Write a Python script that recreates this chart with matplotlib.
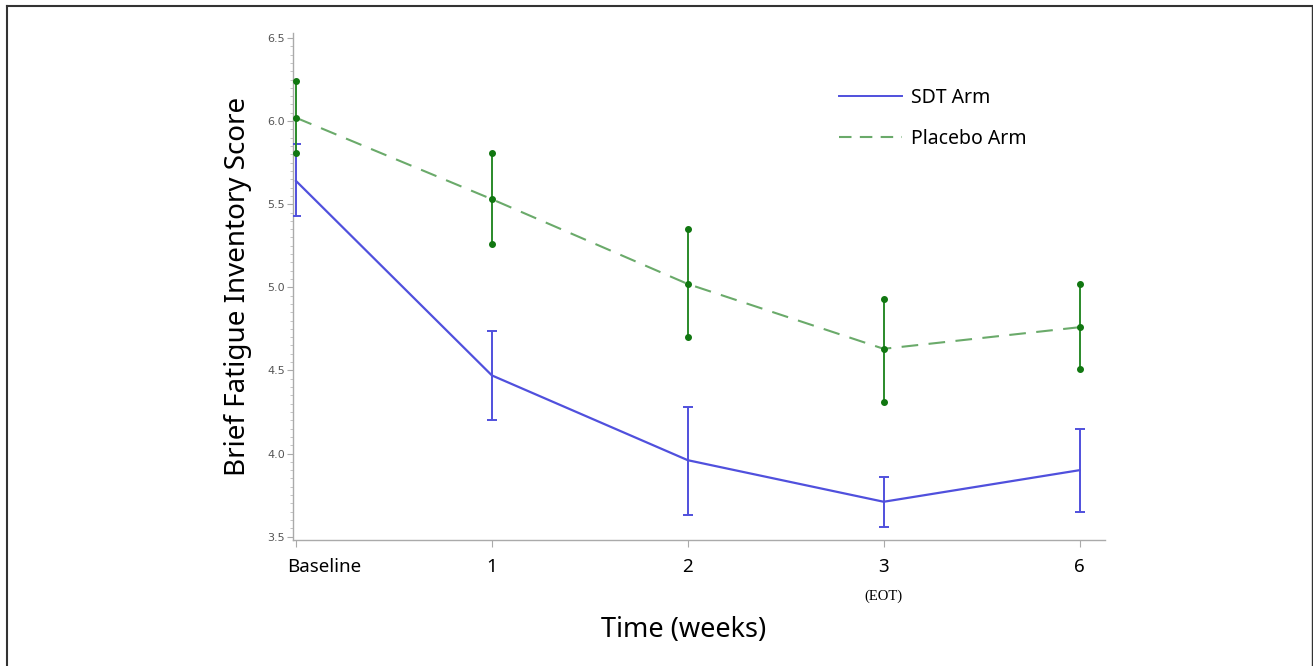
import matplotlib.pyplot as plt
import matplotlib.ticker as ticker
from matplotlib.lines import Line2D

# Data
time_labels = ['Baseline', '1', '2', '3', '6']
sdt_mean = [5.64, 4.47, 3.96, 3.71, 3.90]
sdt_upper = [5.86, 4.74, 4.28, 3.86, 4.15]
sdt_lower = [5.43, 4.20, 3.63, 3.56, 3.65]
placebo_mean = [6.02, 5.53, 5.02, 4.63, 4.76]
placebo_upper = [6.24, 5.81, 5.35, 4.93, 5.02]
placebo_lower = [5.81, 5.26, 4.70, 4.31, 4.51]

x = list(range(len(time_labels)))

sdt_color = '#5050dd'
placebo_line = '#6aaa6a'
placebo_bar = '#2a8a2a'
placebo_dot = '#117711'

fig = plt.figure(figsize=(13.13, 6.66), dpi=100)
ax = fig.add_axes([0.2232, 0.1892, 0.6184, 0.7613])

# SDT arm: solid line with capped error bars
ax.plot(x, sdt_mean, color=sdt_color, linewidth=1.6, zorder=3)
ax.errorbar(x, sdt_mean,
            yerr=[[m - l for m, l in zip(sdt_mean, sdt_lower)],
                  [u - m for m, u in zip(sdt_mean, sdt_upper)]],
            fmt='none', ecolor=sdt_color, elinewidth=1.4, capsize=3.8,
            capthick=1.4, zorder=3)

# Placebo arm: dashed line, error bars with dots
ax.plot(x, placebo_mean, color=placebo_line, linewidth=1.5,
        dashes=(8, 5), zorder=2)
for xi, lo, hi, m in zip(x, placebo_lower, placebo_upper, placebo_mean):
    ax.plot([xi, xi], [lo, hi], color=placebo_bar, linewidth=1.4, zorder=4)
    ax.plot([xi, xi, xi], [lo, m, hi], linestyle='none', marker='o',
            markersize=4, color=placebo_dot, zorder=5)

ax.set_xlim(-0.015, 4.13)
ax.set_ylim(3.48, 6.53)

ax.set_xticks(x)
# baseline label sits to the right of its tick, so it is drawn separately
ax.set_xticklabels([''] + time_labels[1:], fontsize=13.5, family='Noto Sans')
ax.annotate(time_labels[0], xy=(x[0], 0), xycoords=('data', 'axes fraction'),
            xytext=(-6.5, -13), textcoords='offset points', ha='left',
            va='top', fontsize=13.5, family='Noto Sans')
ax.set_yticks([3.5, 4.0, 4.5, 5.0, 5.5, 6.0, 6.5])
ax.yaxis.set_major_formatter(ticker.FormatStrFormatter('%.1f'))
ax.yaxis.set_minor_locator(ticker.MultipleLocator(0.05))
ax.tick_params(axis='y', which='major', labelsize=8, labelcolor='#555555',
               color='#aaaaaa', length=4, width=0.8, pad=2)
ax.tick_params(axis='y', which='minor', color='#bbbbbb', length=2, width=0.6)
ax.tick_params(axis='x', which='major', color='#aaaaaa', length=5,
               width=0.8, pad=8, labelcolor='black')

for side in ['top', 'right']:
    ax.spines[side].set_visible(False)
for side in ['left', 'bottom']:
    ax.spines[side].set_color('#aaaaaa')
    ax.spines[side].set_linewidth(1.0)

ax.text(3, -0.098, '(EOT)', transform=ax.get_xaxis_transform(),
        ha='center', va='top', fontsize=10.5, family='Liberation Serif')

ax.set_xlabel('Time (weeks)', fontsize=19.5, family='Noto Sans', labelpad=29)
ax.xaxis.label.set_x(0.4815)
ax.set_ylabel('Brief Fatigue Inventory Score', fontsize=20,
              family='Noto Sans', labelpad=11)

handles = [Line2D([], [], color=sdt_color, linewidth=1.4),
           Line2D([], [], color=placebo_line, linewidth=1.5, dashes=(6, 4))]
fig.legend(handles, ['SDT Arm', 'Placebo Arm'], loc='upper left',
           bbox_to_anchor=(0.626, 0.894), frameon=False,
           prop={'family': 'Noto Sans', 'size': 14},
           handlelength=3.2, labelspacing=1.05, handletextpad=0.5)

# thin frame around the whole picture
fig.add_artist(Line2D([0.005, 0.005], [0, 0.991], transform=fig.transFigure,
                      color='#333333', linewidth=1.5))
fig.add_artist(Line2D([0.005, 0.999], [0.991, 0.991], transform=fig.transFigure,
                      color='#333333', linewidth=1.5))
fig.add_artist(Line2D([0.999, 0.999], [0, 0.991], transform=fig.transFigure,
                      color='#333333', linewidth=1.0))

fig.savefig('out.png', dpi=100)
